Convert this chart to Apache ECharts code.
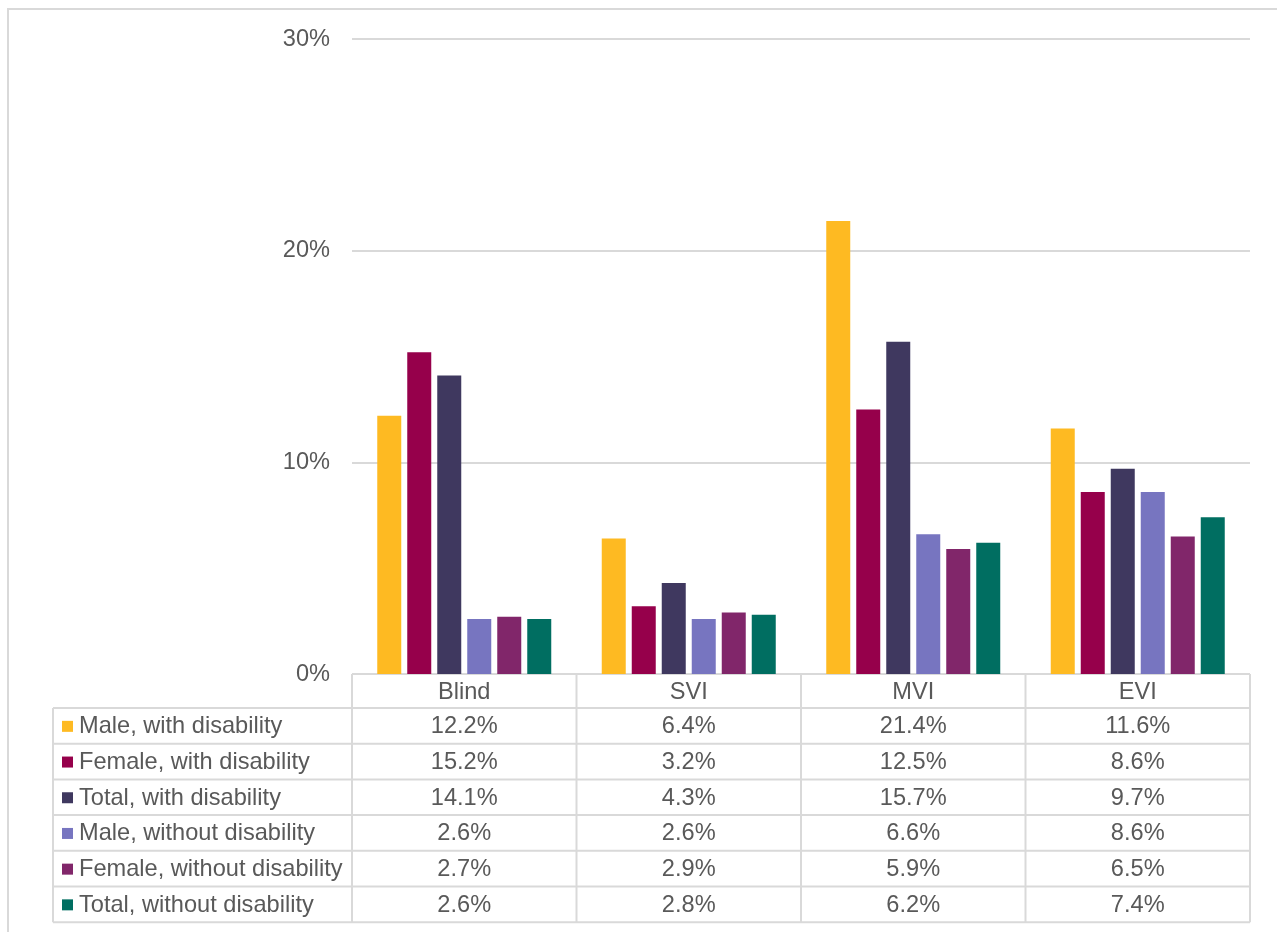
<!DOCTYPE html>
<html>
<head>
<meta charset="utf-8">
<script src="https://cdn.jsdelivr.net/npm/echarts@6/dist/echarts.min.js"></script>
<style>
  html, body { margin: 0; padding: 0; background: #fff; }
  #chart { width: 1277px; height: 932px; }
</style>
</head>
<body>
<div id="chart"></div>
<script>
// Categories of visual impairment
const categories = ['Blind', 'SVI', 'MVI', 'EVI'];

// Series names and values (%)
const seriesNames = [
  'Male, with disability',
  'Female, with disability',
  'Total, with disability',
  'Male, without disability',
  'Female, without disability',
  'Total, without disability'
];
const maleWith      = [12.2, 6.4, 21.4, 11.6];
const femaleWith    = [15.2, 3.2, 12.5, 8.6];
const totalWith     = [14.1, 4.3, 15.7, 9.7];
const maleWithout   = [2.6, 2.6, 6.6, 8.6];
const femaleWithout = [2.7, 2.9, 5.9, 6.5];
const totalWithout  = [2.6, 2.8, 6.2, 7.4];
const seriesValues = [maleWith, femaleWith, totalWith, maleWithout, femaleWithout, totalWithout];

const colors = ['#FEBA22', '#96004B', '#3F385F', '#7775C0', '#81266A', '#006E61'];

// Layout of plot area and data table (pixels)
const gridLeft = 352, gridRight = 1250, gridTop = 39, gridBottom = 674;
const tableLeft = 53;
const headerH = 34;
const rowH = 35.7;
const lineColor = '#D9D9D9';
const textColor = '#595959';
const fontFamily = '"Liberation Sans", Arial, sans-serif';
const fontSize = 23.6;

const chart = echarts.init(document.getElementById('chart'));

chart.setOption({
  animation: false,
  backgroundColor: '#fff',
  grid: {
    left: gridLeft,
    right: 1277 - gridRight,
    top: gridTop,
    bottom: 932 - gridBottom
  },
  xAxis: {
    type: 'category',
    data: categories,
    axisLine: { show: false },
    axisTick: { show: false },
    axisLabel: { show: false }
  },
  yAxis: {
    type: 'value',
    min: 0,
    max: 30,
    interval: 10,
    axisLine: { show: false },
    axisTick: { show: false },
    axisLabel: {
      formatter: '{value}%',
      color: textColor,
      fontSize: fontSize,
      fontFamily: fontFamily,
      margin: 22
    },
    splitLine: { lineStyle: { color: lineColor, width: 2 } }
  },
  series: seriesNames.map((name, i) => ({
    name: name,
    type: 'bar',
    data: seriesValues[i],
    barWidth: 24,
    barGap: '25%',
    itemStyle: { color: colors[i] }
  }))
});

// Data table drawn beneath the plot, aligned with the category axis
function buildTable() {
  const els = [];
  const nRows = seriesNames.length;
  const tableTop = gridBottom;
  const bodyTop = tableTop + headerH;
  const tableBottom = bodyTop + nRows * rowH;
  const line = (x1, y1, x2, y2) => els.push({
    type: 'line',
    shape: { x1, y1, x2, y2 },
    style: { stroke: lineColor, lineWidth: 2 },
    silent: true
  });
  const text = (x, y, str, align) => els.push({
    type: 'text',
    x, y,
    style: {
      text: str,
      fill: textColor,
      font: fontSize + 'px ' + fontFamily,
      align: align,
      verticalAlign: 'middle'
    },
    silent: true
  });

  const catWidth = (gridRight - gridLeft) / categories.length;
  // header row lines
  line(gridLeft, tableTop, gridRight, tableTop);
  for (let c = 0; c <= categories.length; c++) {
    const x = gridLeft + c * catWidth;
    line(x, tableTop, x, tableBottom);
  }
  // body row lines
  for (let r = 0; r <= nRows; r++) {
    const y = bodyTop + r * rowH;
    line(tableLeft, y, gridRight, y);
  }
  line(tableLeft, bodyTop, tableLeft, tableBottom);

  // category headers
  categories.forEach((cat) => {
    const cx = chart.convertToPixel({ xAxisIndex: 0 }, cat);
    text(cx, tableTop + headerH / 2 + 1, cat, 'center');
  });

  // rows: legend key, series name, values
  seriesNames.forEach((name, r) => {
    const cy = bodyTop + r * rowH + rowH / 2 + 1;
    els.push({
      type: 'rect',
      shape: { x: tableLeft + 9, y: cy - 6, width: 11, height: 11 },
      style: { fill: colors[r] },
      silent: true
    });
    text(tableLeft + 26, cy, name, 'left');
    categories.forEach((cat, c) => {
      const cx = chart.convertToPixel({ xAxisIndex: 0 }, cat);
      text(cx, cy, seriesValues[r][c].toFixed(1) + '%', 'center');
    });
  });

  // outer chart frame
  els.push({
    type: 'polyline',
    shape: { points: [[8, 940], [8, 9], [1285, 9]] },
    style: { stroke: lineColor, lineWidth: 2, fill: null },
    silent: true
  });
  return els;
}

chart.setOption({ graphic: { elements: buildTable() } });
</script>
</body>
</html>
